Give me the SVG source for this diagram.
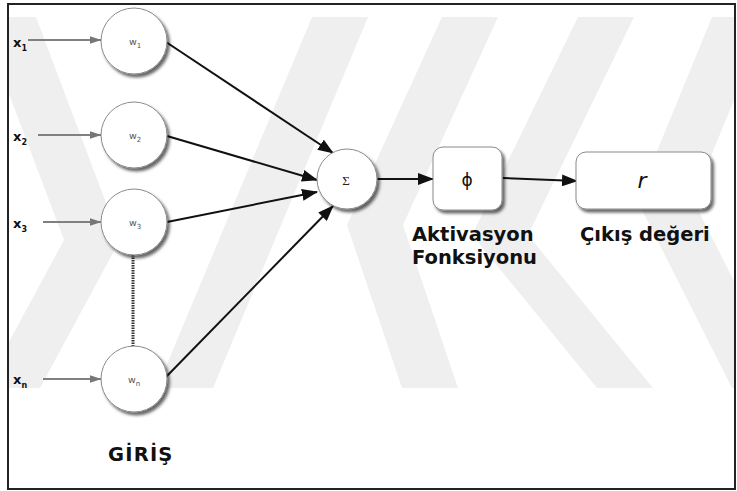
<svg xmlns="http://www.w3.org/2000/svg" width="737" height="491" viewBox="0 0 737 491">
  <defs>
    <style>
      .node { fill: #ffffff; stroke: #8a8a8a; stroke-width: 1; filter: url(#shadow); }
      .wire { stroke: #111; stroke-width: 2; fill: none; marker-end: url(#head); }
      .feed { stroke: #808080; stroke-width: 2; fill: none; marker-end: url(#headGray); }
      .xl { font-family: "DejaVu Sans", Verdana, sans-serif; font-weight: bold; font-size: 13px; fill: #111; }
      .xs { font-size: 8px; }
      .wl { font-family: "DejaVu Sans", Verdana, sans-serif; font-size: 9.5px; fill: #555; text-anchor: middle; }
      .ws { font-size: 7px; }
      .cap { font-family: "DejaVu Sans", Verdana, sans-serif; font-weight: bold; font-size: 19.5px; fill: #111; }
      .band { fill: #efefef; }
    </style>
    <filter id="shadow" x="-30%" y="-30%" width="170%" height="170%">
      <feDropShadow dx="2.5" dy="3" stdDeviation="1.8" flood-color="#000" flood-opacity="0.6"/>
    </filter>
    <marker id="head" viewBox="0 0 16 12" markerUnits="userSpaceOnUse" markerWidth="16" markerHeight="12" refX="15" refY="6" orient="auto">
      <path d="M0,0 L16,6 L0,12 z" fill="#111"/>
    </marker>
    <marker id="headGray" viewBox="0 0 12 8" markerUnits="userSpaceOnUse" markerWidth="12" markerHeight="8" refX="11.5" refY="4" orient="auto">
      <path d="M0,0 L12,4 L0,8 z" fill="#777"/>
    </marker>
    <clipPath id="frameClip">
      <rect x="9" y="17" width="725" height="371"/>
    </clipPath>
  </defs>

  <rect x="0" y="0" width="737" height="491" fill="#ffffff"/>

  <!-- light background chevron pattern -->
  <g id="backdrop" clip-path="url(#frameClip)">
    <polygon class="band" points="-20,17 36,17 120,240 40,388 -16,388 64,240"/>
    <polygon class="band" points="312,17 368,17 213,388 157,388"/>
    <polygon class="band" points="442,17 498,17 403,225 458,388 402,388 347,225"/>
    <polygon class="band" points="578,17 634,17 528,235 653,388 597,388 472,235"/>
    <polygon class="band" points="712,17 768,17 693,200 788,388 732,388 637,200"/>
  </g>

  <!-- outer frame -->
  <rect x="8" y="4" width="727" height="485" fill="none" stroke="#222" stroke-width="2"/>

  <!-- connectors -->
  <g id="connectors">
    <line class="feed" x1="28" y1="40" x2="101" y2="40"/>
    <line class="feed" x1="38" y1="135" x2="101" y2="135"/>
    <line class="feed" x1="43" y1="222" x2="101" y2="222"/>
    <line class="feed" x1="43" y1="379" x2="101" y2="379"/>

    <line class="wire" x1="166" y1="42" x2="333" y2="153"/>
    <line class="wire" x1="167" y1="136" x2="317" y2="180"/>
    <line class="wire" x1="167" y1="222" x2="317" y2="192"/>
    <line class="wire" x1="165" y1="378" x2="333" y2="206"/>

    <line class="wire" x1="377" y1="179" x2="433" y2="179"/>
    <line class="wire" x1="503" y1="178" x2="577" y2="181"/>

    <line x1="133" y1="255" x2="133" y2="347" stroke="#333" stroke-width="3" stroke-dasharray="1.5 1"/>
  </g>

  <!-- input labels -->
  <g id="inputs">
    <text class="xl" x="13" y="47">x<tspan class="xs" dy="3.5">1</tspan></text>
    <text class="xl" x="13" y="141">x<tspan class="xs" dy="3.5">2</tspan></text>
    <text class="xl" x="13" y="228">x<tspan class="xs" dy="3.5">3</tspan></text>
    <text class="xl" x="13" y="384">x<tspan class="xs" dy="3.5">n</tspan></text>
  </g>

  <!-- weight nodes -->
  <g id="w1">
    <circle class="node" cx="134" cy="41" r="33"/>
    <text class="wl" x="135" y="45">w<tspan class="ws" dy="3">1</tspan></text>
  </g>
  <g id="w2">
    <circle class="node" cx="134" cy="135" r="33"/>
    <text class="wl" x="135" y="139">w<tspan class="ws" dy="3">2</tspan></text>
  </g>
  <g id="w3">
    <circle class="node" cx="134" cy="222" r="33"/>
    <text class="wl" x="135" y="226">w<tspan class="ws" dy="3">3</tspan></text>
  </g>
  <g id="wn">
    <circle class="node" cx="134" cy="379" r="33"/>
    <text class="wl" x="134" y="383">w<tspan class="ws" dy="3">n</tspan></text>
  </g>

  <!-- summation node -->
  <g id="sum">
    <circle class="node" cx="347" cy="179" r="30"/>
    <text x="346" y="185" text-anchor="middle" font-family="'Liberation Serif', 'DejaVu Serif', serif" font-size="13" fill="#222">Σ</text>
  </g>

  <!-- activation node -->
  <g id="activation">
    <rect class="node" x="433" y="147" width="69" height="63" rx="10" ry="10"/>
    <text x="467" y="186" text-anchor="middle" font-family="'DejaVu Sans', sans-serif" font-size="17" fill="#111">ϕ</text>
    <text class="cap" x="412" y="241">Aktivasyon</text>
    <text class="cap" x="412" y="264">Fonksiyonu</text>
  </g>

  <!-- output node -->
  <g id="output">
    <rect class="node" x="576" y="152" width="135" height="57" rx="10" ry="10"/>
    <text x="642" y="188" text-anchor="middle" font-family="'DejaVu Sans', sans-serif" font-style="italic" font-size="22" fill="#111">r</text>
    <text class="cap" x="580" y="241">Çıkış değeri</text>
  </g>

  <!-- input group caption -->
  <g id="input-caption">
    <text class="cap" x="108" y="461" letter-spacing="1.2">GİRİŞ</text>
  </g>
</svg>
